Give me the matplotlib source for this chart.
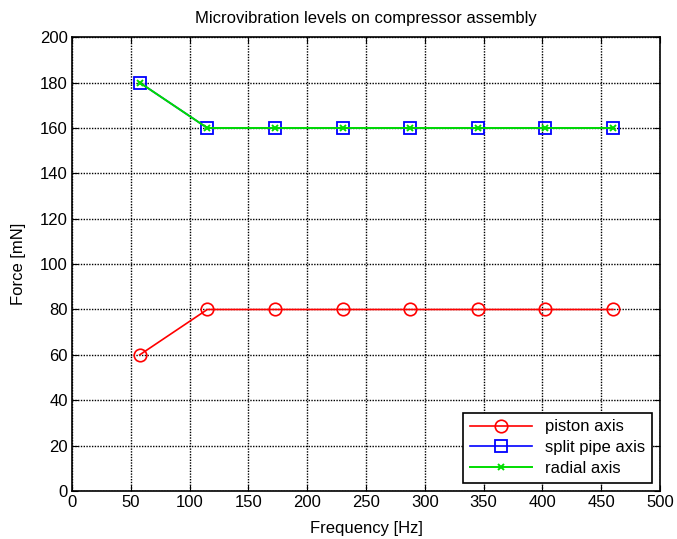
import matplotlib
matplotlib.use("Agg")
import matplotlib.pyplot as plt
import numpy as np

plt.rcParams['font.family'] = ['Liberation Sans', 'DejaVu Sans']
plt.rcParams['font.size'] = 12

freq = [57.5, 115, 172.5, 230, 287.5, 345, 402.5, 460]
piston = [60, 80, 80, 80, 80, 80, 80, 80]
split_pipe = [180, 160, 160, 160, 160, 160, 160, 160]
radial = [180, 160, 160, 160, 160, 160, 160, 160]

fig = plt.figure(figsize=(6.77, 5.39), dpi=100)
ax = fig.add_axes([0.1064, 0.089, 0.975 - 0.1064, 0.931 - 0.089])

ax.plot(freq, piston, color='#ff0000', marker='o', markersize=9,
        markerfacecolor='none', linewidth=1.2, markeredgewidth=1.2,
        label='piston axis')
ax.plot(freq, split_pipe, color='#0000ff', marker='s', markersize=9,
        markerfacecolor='none', linewidth=1.2, markeredgewidth=1.3,
        label='split pipe axis')
ax.plot(freq, radial, color='#00dd00', marker='x', markersize=5,
        linewidth=1.4, markeredgewidth=1.4, label='radial axis')

ax.set_xlim(0, 500)
ax.set_ylim(0, 200)
ax.set_xticks(np.arange(0, 501, 50))
ax.set_yticks(np.arange(0, 201, 20))
ax.grid(True, color='black', linestyle=(0, (1, 1)), linewidth=1.0)
ax.tick_params(direction='in', top=True, right=True, labelsize=12, length=4,
               pad=3)
for s in ax.spines.values():
    s.set_linewidth(1.2)

ax.set_title('Microvibration levels on compressor assembly', fontsize=12,
             pad=10)
ax.set_xlabel('Frequency [Hz]', fontsize=12, labelpad=8)
ax.set_ylabel('Force [mN]', fontsize=12, labelpad=10)

leg = ax.legend(loc='lower right', fontsize=12, fancybox=False,
                framealpha=1, edgecolor='black', borderaxespad=0.5,
                handlelength=3.7, labelspacing=0.35)
leg.get_frame().set_linewidth(1.2)

fig.savefig('out.png', dpi=100)
